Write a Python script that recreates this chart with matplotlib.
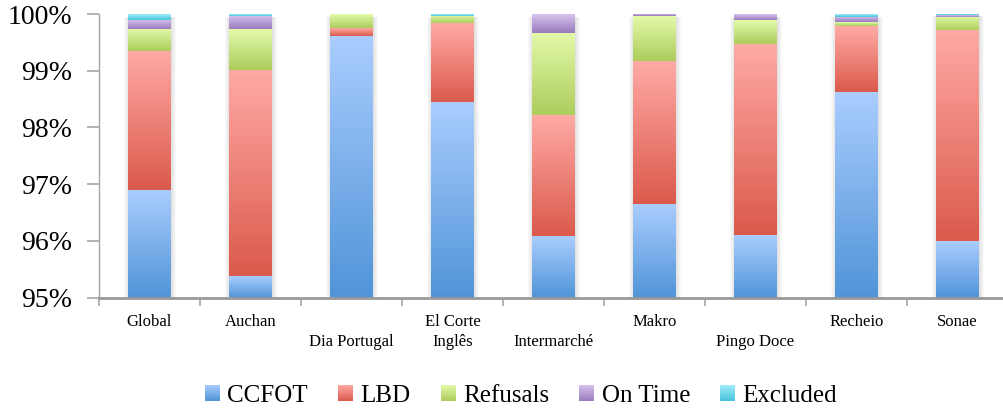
import numpy as np
import matplotlib
matplotlib.use('Agg')
import matplotlib.pyplot as plt
from matplotlib.colors import LinearSegmentedColormap
from matplotlib.legend_handler import HandlerBase
from matplotlib.patches import Rectangle, Patch

# ---------------- data ----------------
categories = ["Global", "Auchan", "Dia Portugal", "El Corte\nInglês", "Intermarché",
              "Makro", "Pingo Doce", "Recheio", "Sonae"]
stagger = [False, False, True, False, True, False, True, False, False]
ccfot    = [96.90, 95.38, 99.62, 98.45, 96.09, 96.65, 96.11, 98.63, 96.00]
lbd      = [2.45, 3.64, 0.14, 1.39, 2.13, 2.52, 3.37, 1.16, 3.72]
refusals = [0.39, 0.72, 0.24, 0.13, 1.45, 0.79, 0.42, 0.07, 0.23]
on_time  = [0.16, 0.23, 0.00, 0.00, 0.33, 0.04, 0.10, 0.09, 0.03]
excluded = [0.10, 0.03, 0.00, 0.03, 0.00, 0.00, 0.00, 0.05, 0.03]
series_names = ["CCFOT", "LBD", "Refusals", "On Time", "Excluded"]
yticks = [95, 96, 97, 98, 99, 100]

# gradient colours (top light, bottom dark)
grad = {
    "CCFOT":    ("#AACDFE", "#5094D8"),
    "LBD":      ("#FFAAA5", "#DB5A4C"),
    "Refusals": ("#E3FAAA", "#ADCD5C"),
    "On Time":  ("#D6C4EE", "#9A7BBE"),
    "Excluded": ("#A2EEF9", "#48C2DB"),
}

series = [ccfot, lbd, refusals, on_time, excluded]

fig = plt.figure(figsize=(10.04, 4.09), dpi=100)
ax = fig.add_axes([99 / 1004, 1 - 297.7 / 409, 909 / 1004, (297.7 - 14) / 409])

x = np.arange(len(categories))
w = 0.416
px = 1.0 / 101  # one pixel in x data units

ylo, yhi = 95, 100

# soft shadows behind bars
totals = np.sum(np.array(series), axis=0)
for k in range(1, 6):
    ax.bar(x + 0.8 * px, totals - 0.045, width=w + 2 * k * px, color='black',
           alpha=0.025, zorder=1, linewidth=0)

bottom = np.zeros(len(categories))
for name, vals in zip(series_names, series):
    vals = np.array(vals)
    bars = ax.bar(x, vals, width=w, bottom=bottom, color='none', linewidth=0, zorder=2)
    top_c, bot_c = grad[name]
    cmap = LinearSegmentedColormap.from_list(name, [bot_c, top_c])
    for p in bars.patches:
        h = p.get_height()
        if h <= 0:
            continue
        x0 = p.get_x()
        x1 = x0 + p.get_width()
        y0 = p.get_y()
        y1 = min(y0 + h, yhi)
        y0v = max(y0, ylo)
        if y1 <= y0v:
            continue
        img = np.linspace(0, 1, 256).reshape(-1, 1)
        ax.imshow(img, cmap=cmap, origin='lower', aspect='auto',
                  extent=(x0, x1, y0v, y1), zorder=3, interpolation='bilinear')
    bottom = bottom + vals

ax.set_xlim(-0.5, len(categories) - 0.5)
ax.set_ylim(ylo, yhi)

# axes styling
for s in ['top', 'right']:
    ax.spines[s].set_visible(False)
ax.spines['left'].set_color('#A6A6A6')
ax.spines['left'].set_linewidth(1.0)
ax.spines['bottom'].set_color('#999999')
ax.spines['bottom'].set_linewidth(2.0)
ax.spines['bottom'].set_zorder(5)

ax.set_yticks(yticks)
ax.set_yticklabels([f"{v}%" for v in yticks], fontsize=20, family='Liberation Serif')
ax.tick_params(axis='y', length=8.5, width=1.2, color='#A6A6A6', pad=11)

labels = [("\n" + c) if s else c for c, s in zip(categories, stagger)]
ax.set_xticks(x)
ax.set_xticklabels(labels, fontsize=12, family='Liberation Serif', linespacing=1.3)
ax.tick_params(axis='x', which='major', length=0, pad=12)
ax.set_xticks(np.arange(-0.5, len(categories), 1.0), minor=True)
ax.tick_params(axis='x', which='minor', length=6, width=1.2, color='#A6A6A6')


class GradHandler(HandlerBase):
    def __init__(self, top, bot, n=24):
        super().__init__()
        self.cmap = LinearSegmentedColormap.from_list('g', [bot, top])
        self.n = n

    def create_artists(self, legend, orig_handle, xdescent, ydescent, width, height,
                       fontsize, trans):
        arts = []
        hh = height / self.n
        for i in range(self.n):
            r = Rectangle((-xdescent, -ydescent + i * hh), width, hh * 1.05,
                          facecolor=self.cmap((i + 0.5) / self.n), edgecolor='none',
                          transform=trans)
            arts.append(r)
        return arts


handles = [Patch(label=n) for n in series_names]
hmap = {h: GradHandler(*grad[n]) for h, n in zip(handles, series_names)}
fig.legend(handles=handles, labels=series_names, handler_map=hmap, loc='center',
           bbox_to_anchor=(0.519, 0.033), ncol=5, frameon=False,
           prop={'family': 'Liberation Serif', 'size': 18},
           handlelength=0.6, handleheight=0.6, handletextpad=0.3, columnspacing=1.2)

fig.savefig('out.png', dpi=100)
